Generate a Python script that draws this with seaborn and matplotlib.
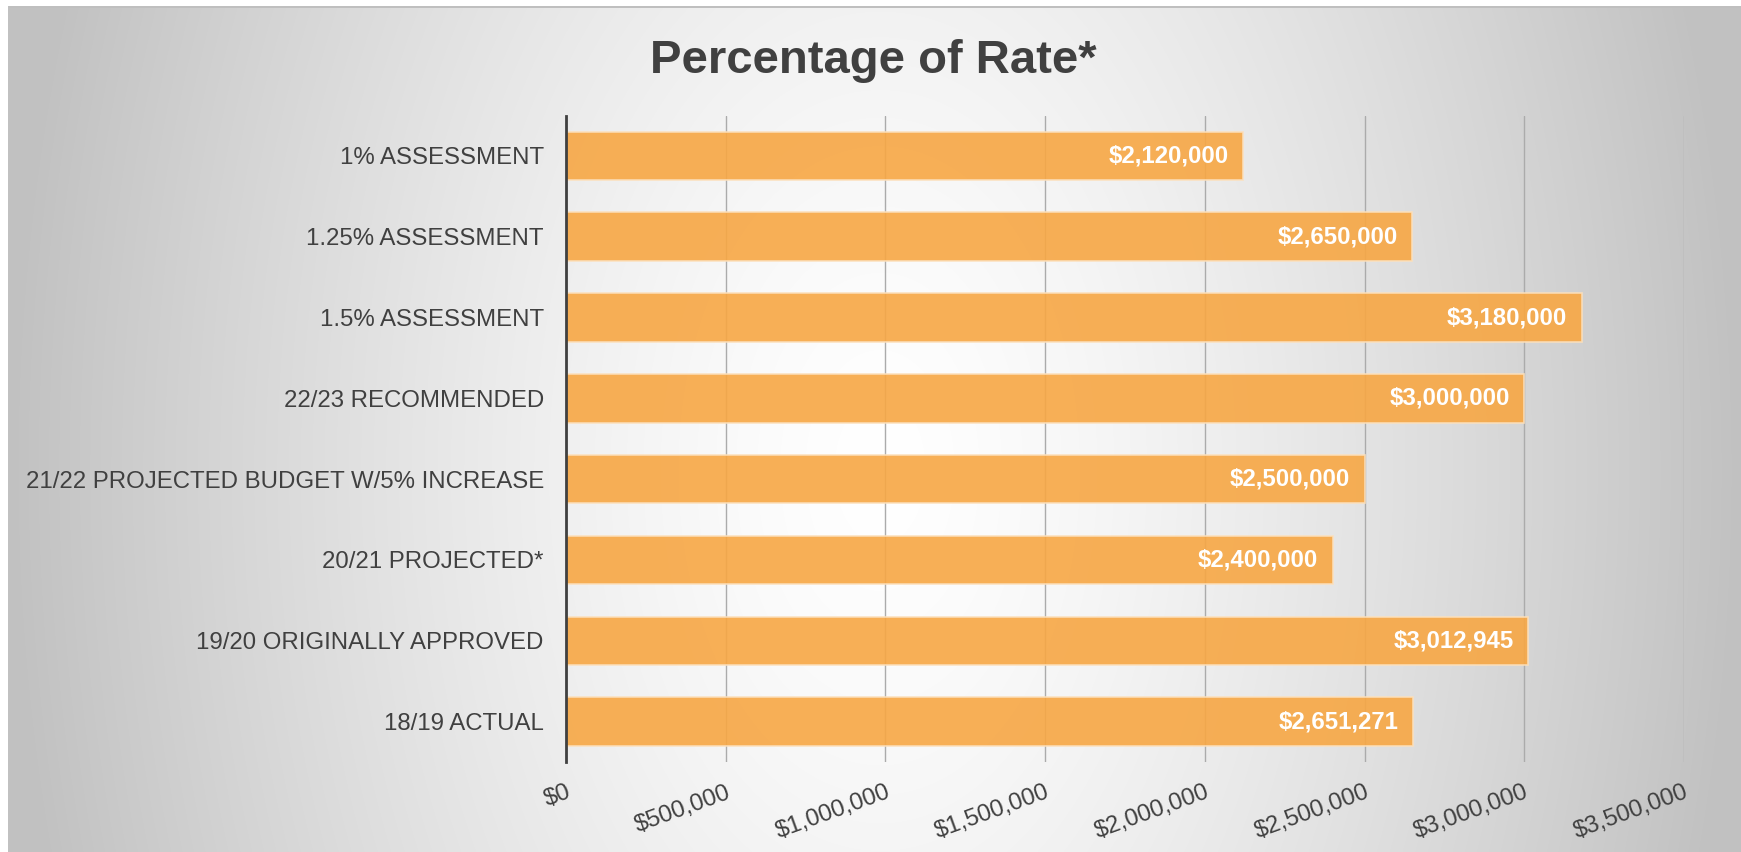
import numpy as np
import pandas as pd
import matplotlib
matplotlib.use("Agg")
import matplotlib.pyplot as plt
import seaborn as sns

# ---- data ----
categories = [
    "1% ASSESSMENT",
    "1.25% ASSESSMENT",
    "1.5% ASSESSMENT",
    "22/23 RECOMMENDED",
    "21/22 PROJECTED BUDGET W/5% INCREASE",
    "20/21 PROJECTED*",
    "19/20 ORIGINALLY APPROVED",
    "18/19 ACTUAL",
]
values = [2120000, 2650000, 3180000, 3000000, 2500000, 2400000, 3012945, 2651271]
x_ticks = [0, 500000, 1000000, 1500000, 2000000, 2500000, 3000000, 3500000]
title = "Percentage of Rate*"

df = pd.DataFrame({"category": categories, "value": values})

sns.set_theme(style="white")
plt.rcParams["font.family"] = ["Liberation Sans", "DejaVu Sans"]

W, H, DPI = 1741, 852, 100
fig = plt.figure(figsize=(W / DPI, H / DPI), dpi=DPI)

# ---- background gradient ----
yy, xx = np.mgrid[0:H, 0:W].astype(float)
cx, cy = 880.0, 470.0
rx = np.where(xx < cx, 872.0, 861.0)
ry = 1400.0
d = np.sqrt(((xx - cx) / rx) ** 2 + ((yy - cy) / ry) ** 2)
d = np.clip(d, 0, 1)
v = 255 - 62 * d ** 1.4
img = np.stack([v, v, v], axis=-1) / 255.0
img[:6, :, :] = 1.0
img[:, :8, :] = 1.0
img[6:8, 8:, :] = 0.75
img[6:, 8:9, :] = 0.76
fig.figimage(img, xo=0, yo=0, zorder=-10, origin="upper")

# ---- axes ----
left, right = 566 / W, 1684 / W
bottom, top = 1 - 762 / H, 1 - 115.5 / H
ax = fig.add_axes([left, bottom, right - left, top - bottom])
ax.set_facecolor("none")
ax.patch.set_alpha(0)

sns.barplot(data=df, x="value", y="category", orient="h", ax=ax,
            color="#F7A744", alpha=0.9, width=0.6, saturation=1,
            edgecolor="#FCE0BC", linewidth=1.2, zorder=3)

ax.set_xlim(0, 3500000)
ax.set_ylim(len(categories) - 0.5, -0.5)
ax.set_xticks(x_ticks)
ax.set_xticklabels([f"${t:,.0f}" for t in x_ticks])
ax.set_xlabel("")
ax.set_ylabel("")

ax.grid(axis="x", color="#ABABAB", linewidth=1.0, zorder=0)
ax.grid(axis="y", visible=False)
ax.set_axisbelow(True)
for s in ["top", "right", "bottom"]:
    ax.spines[s].set_visible(False)
ax.spines["left"].set_color("#404040")
ax.spines["left"].set_linewidth(2.0)
ax.spines["left"].set_zorder(5)

ax.tick_params(axis="y", length=0, pad=16, labelsize=17.3, labelcolor="#404040")
ax.tick_params(axis="x", length=0, pad=14, labelsize=17.3, labelcolor="#404040")
for lab in ax.get_xticklabels():
    lab.set_rotation(20)
    lab.set_ha("right")
    lab.set_va("top")
    lab.set_rotation_mode("anchor")

# data labels
for p, val in zip(ax.patches, values):
    ax.annotate(f"${val:,.0f}",
                (p.get_width(), p.get_y() + p.get_height() / 2),
                xytext=(-10.5, 0), textcoords="offset points",
                ha="right", va="center", color="white",
                fontsize=17.3, fontweight="bold", zorder=6)

fig.text(873 / W, 1 - 73 / H, title, ha="center", va="baseline",
         fontsize=34, fontweight="bold", color="#404040")

fig.savefig("out.png", dpi=DPI)
